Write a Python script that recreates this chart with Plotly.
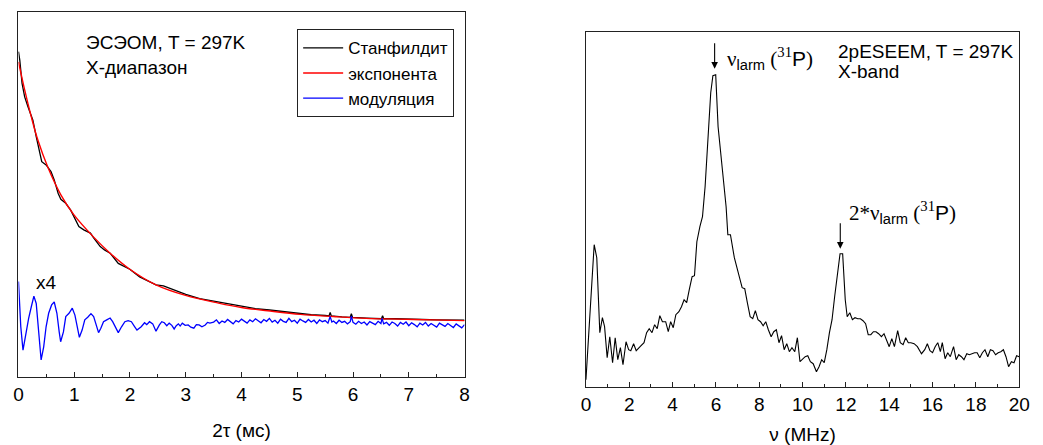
import plotly.graph_objects as go

# ---------------- Left panel: ESEEM decay (ЭСЭОМ) ----------------
t_stan = [0, 0.023, 0.064, 0.111, 0.17, 0.258, 0.318, 0.376, 0.417, 0.495, 0.583, 0.641, 0.712, 0.76,
          0.848, 0.936, 1.025, 1.083, 1.171, 1.29, 1.348, 1.466, 1.542, 1.643, 1.79, 1.878, 1.996, 2.173,
          2.32, 2.466, 2.6, 2.75, 3.0, 3.25, 3.5, 3.75, 4.0, 4.25, 4.5, 4.75, 5.0, 5.25, 5.5, 5.57, 5.59,
          5.61, 5.8, 5.95, 5.97, 5.99, 6.25, 6.5, 6.51, 6.53, 6.55, 6.75, 7.0, 7.25, 7.5, 7.75, 8.0]
y_stan = [0.892, 0.869, 0.805, 0.768, 0.741, 0.704, 0.659, 0.613, 0.590, 0.581, 0.563, 0.540, 0.503, 0.487,
          0.476, 0.457, 0.430, 0.412, 0.403, 0.394, 0.381, 0.357, 0.348, 0.339, 0.311, 0.304, 0.295, 0.274,
          0.263, 0.252, 0.249, 0.240, 0.226, 0.214, 0.207, 0.199, 0.193, 0.187, 0.183, 0.178, 0.174, 0.170,
          0.168, 0.167, 0.176, 0.167, 0.164, 0.163, 0.173, 0.163, 0.161, 0.159, 0.159, 0.167, 0.159, 0.159,
          0.157, 0.157, 0.156, 0.155, 0.155]

t_exp = [0, 0.111, 0.23, 0.346, 0.523, 0.76, 0.995, 1.348, 1.643, 1.996, 2.466, 2.996, 3.587, 3.998,
         4.47, 5.058, 5.647, 6.237, 6.825, 7.414, 8.0]
y_exp = [0.864, 0.787, 0.713, 0.650, 0.576, 0.499, 0.444, 0.383, 0.339, 0.295, 0.252, 0.223, 0.202, 0.190,
         0.181, 0.171, 0.165, 0.160, 0.158, 0.156, 0.154]

t_mod = [0, 0.041, 0.081, 0.141, 0.182, 0.230, 0.276, 0.318, 0.359, 0.406, 0.452, 0.495, 0.541, 0.594,
         0.641, 0.689, 0.730, 0.756, 0.806, 0.848, 0.906, 0.965, 1.012, 1.053, 1.092, 1.141, 1.189, 1.242,
         1.300, 1.348, 1.396, 1.436, 1.477, 1.525, 1.583, 1.643, 1.689, 1.731, 1.790, 1.848, 1.908, 1.966,
         2.025, 2.085, 2.125, 2.201, 2.261, 2.30, 2.350, 2.408, 2.466, 2.527, 2.57, 2.615, 2.66, 2.703,
         2.75, 2.792, 2.83, 2.868, 2.90, 2.938, 2.99, 3.044, 3.09, 3.145, 3.19, 3.239, 3.29, 3.350, 3.39,
         3.433,
         3.50, 3.55, 3.60, 3.65, 3.70, 3.75, 3.80, 3.85, 3.90, 3.95, 4.00, 4.05, 4.10, 4.15, 4.20, 4.25,
         4.30, 4.35, 4.40, 4.45, 4.50, 4.55, 4.60, 4.65, 4.70, 4.75, 4.80, 4.85, 4.90, 4.95, 5.00, 5.05,
         5.10, 5.15, 5.20, 5.25, 5.30, 5.35, 5.40, 5.45, 5.50, 5.55, 5.59, 5.62, 5.65, 5.70, 5.75, 5.80,
         5.85, 5.90, 5.95, 5.97, 6.00, 6.05, 6.10, 6.15, 6.20, 6.25, 6.30, 6.35, 6.40, 6.45, 6.50, 6.52,
         6.55, 6.60, 6.65, 6.70, 6.75, 6.80, 6.85, 6.90, 6.95, 7.00, 7.05, 7.10, 7.15, 7.20, 7.25, 7.30,
         7.35, 7.40, 7.45, 7.50, 7.55, 7.60, 7.65, 7.70, 7.75, 7.80, 7.85, 7.90, 7.95, 8.00]
y_mod = [0.261, 0.137, 0.073, 0.128, 0.160, 0.192, 0.221, 0.201, 0.128, 0.046, 0.082, 0.137, 0.174, 0.197,
         0.205, 0.174, 0.123, 0.096, 0.123, 0.165, 0.174, 0.188, 0.169, 0.137, 0.108, 0.128, 0.156, 0.163,
         0.173, 0.165, 0.137, 0.121, 0.133, 0.151, 0.156, 0.161, 0.151, 0.137, 0.121, 0.137, 0.151, 0.154,
         0.151, 0.137, 0.128, 0.137, 0.148, 0.143, 0.151, 0.145, 0.125, 0.142, 0.151, 0.148, 0.140, 0.147,
         0.141, 0.131, 0.140, 0.145, 0.139, 0.147, 0.141, 0.142, 0.136, 0.133, 0.143, 0.142, 0.137, 0.142,
         0.149, 0.147,
         0.150, 0.156, 0.146, 0.153, 0.149, 0.157, 0.151, 0.145, 0.154, 0.150, 0.158, 0.152, 0.147, 0.156,
         0.151, 0.159, 0.153, 0.148, 0.157, 0.152, 0.160, 0.150, 0.155, 0.147, 0.158, 0.152, 0.149, 0.160,
         0.151, 0.155, 0.147, 0.158, 0.153, 0.149, 0.157, 0.150, 0.155, 0.146, 0.156, 0.151, 0.154, 0.147,
         0.165, 0.150, 0.153, 0.146, 0.155, 0.149, 0.152, 0.145, 0.151, 0.166, 0.149, 0.144, 0.152, 0.146,
         0.150, 0.142, 0.151, 0.147, 0.143, 0.152, 0.146, 0.160, 0.145, 0.149, 0.141, 0.150, 0.146, 0.139,
         0.149, 0.144, 0.150, 0.140, 0.148, 0.143, 0.137, 0.147, 0.142, 0.149, 0.139, 0.146, 0.141, 0.136,
         0.147, 0.142, 0.138, 0.146, 0.140, 0.135, 0.145, 0.139, 0.134, 0.143]

# ---------------- Right panel: 2pESEEM spectrum ----------------
nu = [0, 0.38, 0.5, 0.64, 0.76, 0.86, 0.98, 1.1, 1.23, 1.35,
      1.47, 1.59, 1.71, 1.85, 1.97, 2.07, 2.2, 2.32, 2.5, 2.68,
      2.8, 2.92, 3.05, 3.17, 3.29, 3.41, 3.53, 3.68, 3.8, 3.91,
      4.03, 4.15, 4.29, 4.41, 4.53, 4.65, 4.77, 4.9, 5.01, 5.12,
      5.26, 5.38, 5.5, 5.6, 5.76, 5.86, 5.99, 6.1, 6.23, 6.35,
      6.47, 6.55, 6.67, 6.85, 6.97, 7.09, 7.21, 7.33, 7.45, 7.58,
      7.7, 7.82, 7.94, 8.06, 8.18, 8.3, 8.42, 8.55, 8.67, 8.79,
      8.91, 9.03, 9.15, 9.27, 9.39, 9.51, 9.64, 9.76, 9.88, 10.0,
      10.12, 10.24, 10.36, 10.49, 10.64, 10.76, 10.88, 11.0, 11.12, 11.24,
      11.36, 11.48, 11.6, 11.73, 11.85, 11.97, 12.06, 12.18, 12.3, 12.42,
      12.55, 12.67, 12.79, 12.91, 13.03, 13.15, 13.27, 13.39, 13.51, 13.64,
      13.76, 13.88, 14.0, 14.12, 14.24, 14.39, 14.51, 14.64, 14.76, 14.88,
      15.0, 15.15, 15.3, 15.49, 15.64, 15.76, 15.88, 16.0, 16.12, 16.24,
      16.36, 16.45, 16.58, 16.7, 16.82, 16.97, 17.09, 17.21, 17.33, 17.45,
      17.58, 17.7, 17.82, 17.94, 18.06, 18.18, 18.3, 18.42, 18.55, 18.67,
      18.79, 18.91, 19.03, 19.15, 19.27, 19.39, 19.51, 19.64, 19.76, 19.88,
      20.0]
spec = [7, 142, 129, 54, 69, 60, 29, 50, 24, 49,
        27, 39, 22, 45, 37, 36, 43, 36, 40, 44,
        54, 58, 54, 62, 58, 71, 65, 65, 55, 65,
        59, 72, 75, 80, 87, 84, 97, 110, 111, 145,
        160, 170, 200, 234, 294, 311, 312, 260, 230, 207,
        180, 152, 152, 129, 120, 109, 99, 98, 84, 70,
        68, 76, 67, 65, 61, 65, 57, 50, 55, 57,
        44, 51, 37, 43, 35, 39, 35, 49, 25, 28,
        30, 31, 25, 23, 15, 20, 27, 24, 37, 54,
        67, 90, 110, 133, 133, 87, 70, 74, 67, 69,
        68, 68, 66, 63, 52, 52, 55, 55, 53, 50,
        53, 47, 40, 48, 40, 56, 44, 42, 49, 44,
        44, 43, 40, 33, 37, 43, 36, 34, 40, 44,
        35, 44, 28, 34, 30, 40, 27, 32, 30, 27,
        33, 32, 33, 34, 34, 29, 34, 37, 30, 37,
        36, 32, 34, 35, 37, 30, 20, 25, 24, 31,
        30]

SANS = "Liberation Sans, Arial, sans-serif"
FS = 19

fig = go.Figure()
fig.add_trace(go.Scatter(x=t_stan, y=y_stan, mode="lines", name="Станфилдит",
                         line=dict(color="black", width=1.3), xaxis="x", yaxis="y"))
fig.add_trace(go.Scatter(x=t_exp, y=y_exp, mode="lines", name="экспонента",
                         line=dict(color="red", width=1.4, shape="spline"), xaxis="x", yaxis="y"))
fig.add_trace(go.Scatter(x=t_mod, y=y_mod, mode="lines", name="модуляция",
                         line=dict(color="blue", width=1.3), xaxis="x", yaxis="y"))
fig.add_trace(go.Scatter(x=nu, y=spec, mode="lines", showlegend=False,
                         line=dict(color="black", width=1.1), xaxis="x2", yaxis="y2"))

W, H = 1043, 445
def px(x):
    return x / W
def py(y):
    return 1 - y / H

axis_common = dict(showline=True, mirror=True, linecolor="#222", linewidth=1.3,
                   showgrid=False, zeroline=False)

fig.update_layout(
    width=W, height=H, margin=dict(l=0, r=0, t=0, b=0),
    paper_bgcolor="white", plot_bgcolor="white",
    font=dict(family=SANS, size=FS, color="black"),
    xaxis=dict(domain=[px(13.7), px(466.7)], range=[0, 8], dtick=1, tick0=0,
               ticks="inside", ticklen=5, tickcolor="#222", tickwidth=1.2,
               minor=dict(dtick=0.5, ticks="inside", ticklen=3, tickcolor="#222"),
               tickfont=dict(size=FS), anchor="y",
               title=dict(text="2τ (мс)", font=dict(size=FS), standoff=20),
               **axis_common),
    yaxis=dict(domain=[py(376.7), py(12.3)], range=[0, 1], showticklabels=False,
               ticks="", anchor="x", **axis_common),
    xaxis2=dict(domain=[px(590), px(1030)], range=[0, 20], dtick=2, tick0=0,
                ticks="inside", ticklen=5, tickcolor="#222", tickwidth=1.2,
                minor=dict(dtick=1, ticks="inside", ticklen=3, tickcolor="#222"),
                tickfont=dict(size=FS), anchor="y2",
                title=dict(text="ν (MHz)", font=dict(size=FS), standoff=15),
                **axis_common),
    yaxis2=dict(domain=[py(386.7), py(31.7)], range=[0, 355], showticklabels=False,
                ticks="", anchor="x2", **axis_common),
    legend=dict(x=px(296.7), y=py(29.3), xanchor="left", yanchor="top",
                bordercolor="#222", borderwidth=1, bgcolor="white",
                font=dict(size=17, family=SANS), itemwidth=40, tracegroupgap=0),
    showlegend=True,
)

ann = []
def txt(text, x, y, size=FS):
    ann.append(dict(text=text, x=px(x), y=py(y), xref="paper", yref="paper",
                    xanchor="left", yanchor="middle", showarrow=False,
                    font=dict(size=size, family=SANS, color="black")))

txt("ЭСЭОМ, T = 297K", 80, 42.5)
txt("X-диапазон", 80, 67)
txt("x4", 29, 282.5)
txt("2pESEEM, T = 297K", 844, 51)
txt("X-band", 844, 71.7)

lab1 = ('<span style="font-family:Liberation Serif">ν</span><sub>larm</sub>'
        '<span style="font-family:Liberation Serif"> (<sup>31</sup></span>P'
        '<span style="font-family:Liberation Serif">)</span>')
lab2 = ('<span style="font-family:Liberation Serif">2*ν</span><sub>larm</sub>'
        '<span style="font-family:Liberation Serif"> (<sup>31</sup></span>P'
        '<span style="font-family:Liberation Serif">)</span>')
txt(lab1, 731, 58, size=21)
txt(lab2, 855, 212, size=21)

# arrows marking the peaks
for xa, ytip, ytail in [(5.94, 318, 345), (11.74, 138, 165)]:
    ann.append(dict(x=xa, y=ytip, ax=xa, ay=ytail, xref="x2", yref="y2",
                    axref="x2", ayref="y2", showarrow=True, arrowhead=2,
                    arrowsize=1.2, arrowwidth=1.1, arrowcolor="black", text=""))

fig.update_layout(annotations=ann)
fig.write_html("out.html")
